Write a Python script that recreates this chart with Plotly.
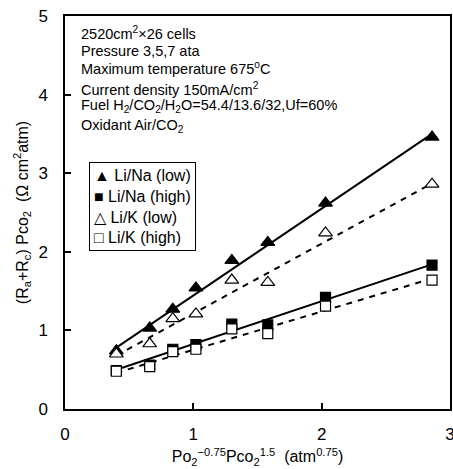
import plotly.graph_objects as go

# ---- data ----
x_vals = [0.40, 0.66, 0.84, 1.02, 1.30, 1.58, 2.03, 2.86]
li_na_low = [0.74, 1.03, 1.27, 1.54, 1.89, 2.12, 2.62, 3.46]
li_k_low = [0.70, 0.83, 1.15, 1.21, 1.64, 1.61, 2.24, 2.86]
li_na_high = [0.49, 0.56, 0.76, 0.82, 1.08, 1.07, 1.42, 1.83]
li_k_high = [0.48, 0.54, 0.73, 0.76, 1.02, 0.96, 1.31, 1.64]

fit_x = [0.40, 2.86]
fit_na_low = [0.78, 3.50]
fit_k_low = [0.68, 2.87]
fit_na_high = [0.50, 1.84]
fit_k_high = [0.46, 1.66]

legend_names = ["Li/Na (low)", "Li/Na (high)", "Li/K (low)", "Li/K (high)"]
condition_lines = [
    "2520cm<sup>2</sup>×26 cells",
    "Pressure 3,5,7 ata",
    "Maximum temperature 675<sup>o</sup>C",
    "Current density 150mA/cm<sup>2</sup>",
    "Fuel H<sub>2</sub>/CO<sub>2</sub>/H<sub>2</sub>O=54.4/13.6/32,Uf=60%",
    "Oxidant Air/CO<sub>2</sub>",
]
condition_y = [4.78, 4.56, 4.34, 4.07, 3.85, 3.60]

FONT = "Liberation Sans, Arial, sans-serif"

fig = go.Figure()

# fitted lines
for fy, dash in [(fit_na_low, "solid"), (fit_k_low, "6px,6px"),
                 (fit_na_high, "solid"), (fit_k_high, "6px,6px")]:
    fig.add_trace(go.Scatter(x=fit_x, y=fy, mode="lines",
                             line=dict(color="black", width=2, dash=dash),
                             showlegend=False, hoverinfo="skip"))

# markers
marker_specs = [
    (li_na_low, "triangle-up", "black", 12),
    (li_k_low, "triangle-up", "white", 12),
    (li_na_high, "square", "black", 10),
    (li_k_high, "square", "white", 10),
]
names_order = [legend_names[0], legend_names[2], legend_names[1], legend_names[3]]
for (ys, sym, fill, sz), nm in zip(marker_specs, names_order):
    fig.add_trace(go.Scatter(x=x_vals, y=ys, mode="markers", name=nm,
                             marker=dict(symbol=sym, color=fill, size=sz,
                                         line=dict(color="black", width=1.2)),
                             showlegend=False))

# condition text
for txt, yy in zip(condition_lines, condition_y):
    fig.add_annotation(x=0.11, y=yy, xref="x", yref="y", text=txt,
                       showarrow=False, xanchor="left", yanchor="middle",
                       font=dict(family=FONT, size=14.5, color="black"))

# legend box (drawn as text)
legend_text = "<br>".join([
    "▲ " + legend_names[0],
    "■ " + legend_names[1],
    "△ " + legend_names[2],
    "□ " + legend_names[3],
])
fig.add_annotation(x=0.187, y=2.58, xref="x", yref="y", text=legend_text,
                   showarrow=False, xanchor="left", yanchor="middle", align="left",
                   bordercolor="black", borderwidth=1, borderpad=4,
                   bgcolor="white",
                   font=dict(family=FONT, size=16, color="black"))

axis_common = dict(showgrid=False, zeroline=False, showline=True, linecolor="black",
                   linewidth=1.5, mirror=True, ticks="inside", ticklen=6,
                   tickwidth=1.5, tickcolor="black", ticklabeloverflow="allow",
                   tickfont=dict(family=FONT, size=17, color="black"))

fig.update_xaxes(range=[0, 3], tickvals=[0, 1, 2, 3], ticklabelstandoff=9,
                 automargin=False,
                 title=dict(text="Po<sub>2</sub><sup>−0.75</sup>Pco<sub>2</sub><sup>1.5</sup>  (atm<sup>0.75</sup>)",
                            font=dict(family=FONT, size=16, color="black"), standoff=8),
                 **axis_common)
fig.update_yaxes(range=[0, 5], tickvals=[0, 1, 2, 3, 4, 5], ticklabelstandoff=12,
                 automargin=False,
                 title=dict(text="(R<sub>a</sub>+R<sub>c</sub>) Pco<sub>2</sub>  (Ω cm<sup>2</sup>atm)",
                            font=dict(family=FONT, size=16, color="black"), standoff=6),
                 **axis_common)

fig.update_layout(width=453, height=469, autosize=False,
                  margin=dict(l=65, r=3, t=16, b=60),
                  plot_bgcolor="white", paper_bgcolor="white",
                  showlegend=False)

fig.write_html("out.html", config={"displayModeBar": False},
               post_script="document.body.style.margin='0';document.body.style.overflow='hidden';")
